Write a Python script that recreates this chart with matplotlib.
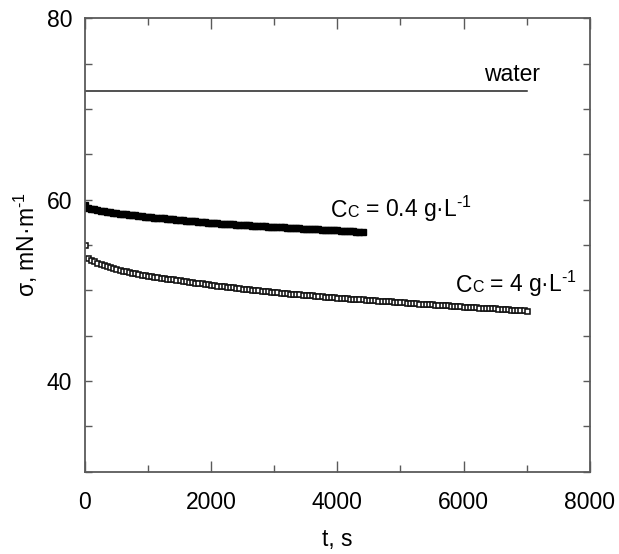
import numpy as np
import matplotlib.pyplot as plt
from matplotlib.offsetbox import TextArea, HPacker, AnnotationBbox
from matplotlib.ticker import MultipleLocator

plt.rcParams['font.family'] = ['Liberation Sans', 'DejaVu Sans']
plt.rcParams['mathtext.fontset'] = 'custom'
plt.rcParams['mathtext.rm'] = 'Liberation Sans'

# surface tension of pure water, mN/m
t_water = [0, 7000]
sigma_water = [72.0, 72.0]

# Cc = 0.4 g/L, t = 0..4400 s every 50 s
t_low = np.arange(0, 4401, 50)
sigma_low = [59.40,
             59.10, 58.98, 58.92, 58.86, 58.80, 58.74, 58.68, 58.62, 58.56, 58.50,
             58.46, 58.42, 58.38, 58.34, 58.30, 58.26, 58.22, 58.18, 58.14, 58.10,
             58.07, 58.03, 58.00, 57.96, 57.93, 57.89, 57.86, 57.82, 57.79, 57.75,
             57.72, 57.69, 57.66, 57.63, 57.60, 57.57, 57.54, 57.51, 57.48, 57.45,
             57.42, 57.40, 57.37, 57.35, 57.32, 57.30, 57.27, 57.25, 57.22, 57.20,
             57.18, 57.16, 57.14, 57.12, 57.10, 57.08, 57.06, 57.04, 57.02, 57.00,
             56.98, 56.96, 56.94, 56.92, 56.90, 56.88, 56.86, 56.84, 56.82, 56.80,
             56.78, 56.76, 56.74, 56.72, 56.70, 56.68, 56.66, 56.64, 56.62, 56.60,
             56.58, 56.56, 56.54, 56.52, 56.50, 56.48, 56.46, 56.45]

# Cc = 4 g/L, t = 0..7000 s every 50 s
t_high = np.arange(0, 7001, 50)
sigma_high = [55.00,
              53.60, 53.40, 53.22, 53.06, 52.93, 52.80, 52.68, 52.56, 52.45, 52.35,
              52.26, 52.18, 52.10, 52.02, 51.95, 51.88, 51.81, 51.74, 51.67, 51.60,
              51.55, 51.50, 51.45, 51.40, 51.35, 51.30, 51.25, 51.20, 51.15, 51.10,
              51.05, 51.00, 50.95, 50.90, 50.85, 50.80, 50.76, 50.72, 50.66, 50.60,
              50.56, 50.52, 50.48, 50.44, 50.40, 50.36, 50.32, 50.28, 50.24, 50.20,
              50.16, 50.12, 50.08, 50.04, 50.00, 49.96, 49.92, 49.88, 49.84, 49.80,
              49.77, 49.74, 49.71, 49.68, 49.65, 49.62, 49.59, 49.56, 49.53, 49.50,
              49.47, 49.44, 49.41, 49.38, 49.35, 49.32, 49.29, 49.26, 49.23, 49.20,
              49.18, 49.15, 49.13, 49.10, 49.08, 49.05, 49.03, 49.00, 48.98, 48.95,
              48.93, 48.90, 48.88, 48.85, 48.83, 48.80, 48.78, 48.75, 48.73, 48.70,
              48.68, 48.65, 48.63, 48.60, 48.58, 48.55, 48.53, 48.50, 48.48, 48.45,
              48.43, 48.40, 48.38, 48.35, 48.33, 48.30, 48.28, 48.25, 48.23, 48.20,
              48.18, 48.16, 48.14, 48.12, 48.10, 48.08, 48.06, 48.04, 48.02, 48.00,
              47.98, 47.95, 47.93, 47.90, 47.88, 47.85, 47.83, 47.80, 47.78, 47.75]

FS = 16.5
axis_grey = '#5a5a5a'
minus_one = r'$\mathregular{^{\text{-1}}}$'

fig = plt.figure(figsize=(6.19, 5.54), dpi=100)
ax = fig.add_axes([0.137, 0.1485, 0.816, 0.8185])

ax.plot(t_water, sigma_water, color='#222222', lw=1.1)
ax.plot(t_low, sigma_low, ls='none', marker='s', ms=4.1, mfc='black', mec='black')
ax.plot(t_high, sigma_high, ls='none', marker='s', ms=3.6, mfc='white',
        mec='#111111', mew=1.15)

ax.set_xlim(0, 8000)
ax.set_ylim(30, 80)
ax.set_xticks([0, 2000, 4000, 6000, 8000])
ax.xaxis.set_minor_locator(MultipleLocator(1000))
ax.set_yticks([40, 60, 80])
ax.yaxis.set_minor_locator(MultipleLocator(5))

ax.tick_params(which='both', direction='in', top=True, right=True,
               color=axis_grey, width=1.0, labelsize=FS)
ax.tick_params(axis='x', which='major', length=8, pad=14)
ax.tick_params(axis='x', which='minor', length=5)
ax.tick_params(axis='y', which='both', length=5, pad=9)
for s in ax.spines.values():
    s.set_color(axis_grey)
    s.set_linewidth(1.3)

ax.set_xlabel('t, s', fontsize=FS, labelpad=10)
ax.set_ylabel('σ, mN·m' + minus_one, fontsize=FS, labelpad=5)

ax.text(6320, 73.1, 'water', fontsize=FS, va='baseline')


def conc_label(x, y, value):
    # "Cc" written as C with a small capital C, then the concentration
    parts = [TextArea('C', textprops=dict(fontsize=FS)),
             TextArea('C', textprops=dict(fontsize=FS * 0.7)),
             TextArea(' = ' + value + ' g·L' + minus_one,
                      textprops=dict(fontsize=FS))]
    box = HPacker(children=parts, align='baseline', pad=0, sep=0)
    ab = AnnotationBbox(box, (x, y), xycoords='data', box_alignment=(0, 0.25),
                        frameon=False, pad=0)
    ax.add_artist(ab)


conc_label(3900, 58.1, '0.4')
conc_label(5870, 49.9, '4')

fig.savefig('out.png', dpi=100)
